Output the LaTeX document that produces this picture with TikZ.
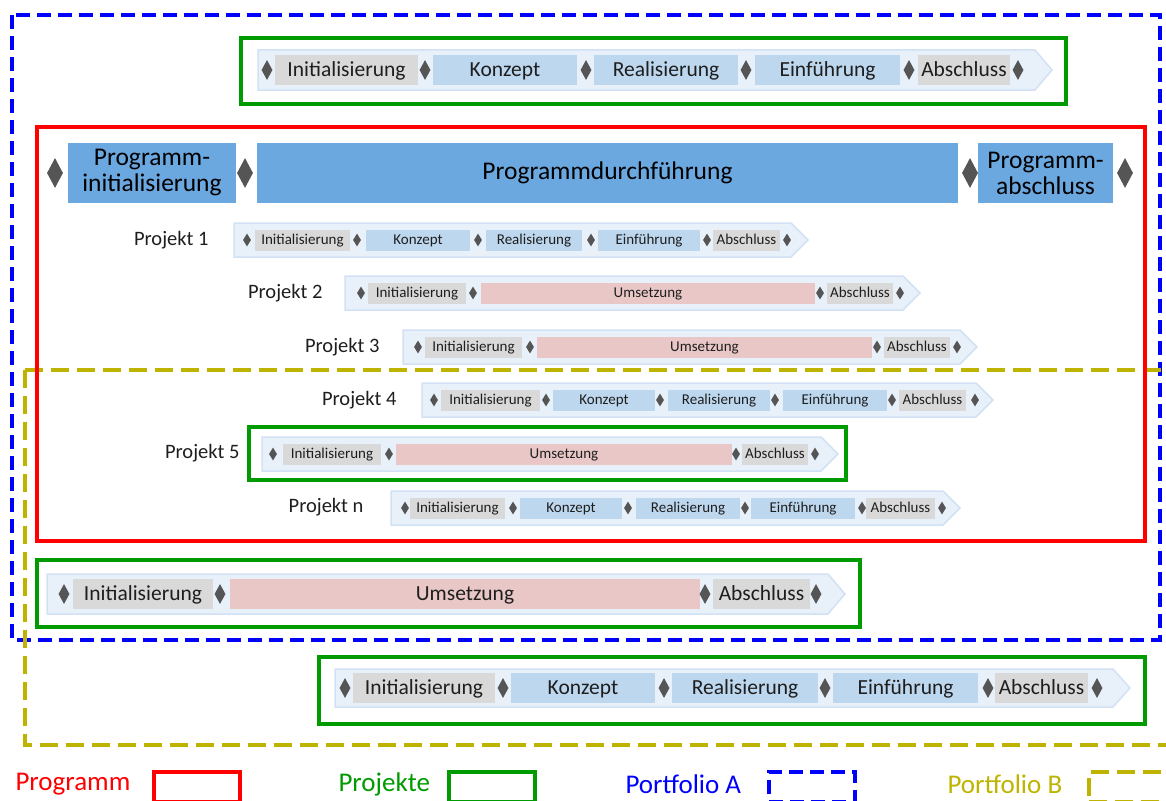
\documentclass[tikz,border=0pt]{standalone}
\usepackage{fontspec}
\setmainfont{Carlito}
\usepackage{tikz}
\usetikzlibrary{shapes.geometric}
\definecolor{ProgRed}{RGB}{255,0,0}
\definecolor{ProjGreen}{RGB}{0,155,0}
\definecolor{PortBlue}{RGB}{0,0,255}
\definecolor{PortOlive}{RGB}{190,180,0}
\definecolor{PhaseGrey}{RGB}{217,217,217}
\definecolor{PhaseBlue}{RGB}{189,215,238}
\definecolor{PhaseRose}{RGB}{234,199,199}
\definecolor{HeadBlue}{RGB}{108,168,224}
\definecolor{MsGrey}{RGB}{85,85,85}
\definecolor{RowBg}{RGB}{232,240,250}
\definecolor{RowEdge}{RGB}{210,225,243}
\definecolor{TextDark}{RGB}{30,30,30}

\tikzset{
  phase/.style={inner sep=0pt,text=TextDark,anchor=center},
  milestone/.style={diamond,fill=MsGrey,inner sep=0pt},
  smallrow/.style={font=\fontsize{15}{16}\selectfont,minimum height=21,
    text height=11pt,text depth=1.5pt},
  bigrow/.style={font=\fontsize{21.5}{23}\selectfont,minimum height=30,
    text height=16pt,text depth=2.5pt},
  smallms/.style={minimum width=8,minimum height=13},
  bigms/.style={minimum width=11,minimum height=20},
  rowbg/.style={fill=RowBg,draw=RowEdge,line width=1.5pt},
  headbox/.style={fill=HeadBlue,inner sep=0pt,minimum height=60,align=center,
    font=\fontsize{25.5}{26}\selectfont,text=black},
  projlabel/.style={anchor=east,font=\fontsize{20.5}{22}\selectfont,text=TextDark},
  legendtext/.style={anchor=west,font=\fontsize{27}{28}\selectfont},
  legendbox/.style={minimum width=86,minimum height=30,line width=4pt,anchor=north west}
}

% #1 name, #2 y, #3 half height, #4 bg start, #5 bg end, #6 boxes, #7 milestones, #8 size
\newcommand{\phaserow}[8]{%
  \filldraw[rowbg] (#4,#2-#3) -- (#5-17,#2-#3) -- (#5,#2) -- (#5-17,#2+#3) -- (#4,#2+#3) -- cycle;
  \foreach \a/\b/\c/\t [count=\i] in {#6}
    \node[phase,#8row,fill=\c,minimum width={\b-\a}] (#1-\i) at ({(\a+\b)/2},#2) {\t};
  \foreach \x [count=\i] in {#7}
    \node[milestone,#8ms] (#1-m\i) at (\x,#2) {};
}

\begin{document}
\begin{tikzpicture}[x=1pt,y=-1pt]
  \useasboundingbox (0,0) rectangle (1166,800);
  \clip (0,0) rectangle (1166,800);

  % portfolios, programm, projekte
  \draw[PortBlue,line width=4pt,dash pattern=on 14pt off 7pt] (12,15) rectangle (1160,640);
  \draw[PortOlive,line width=4pt,dash pattern=on 18pt off 8pt] (25,370) rectangle (1180,745);
  \draw[ProgRed,line width=3.5pt] (37,127) rectangle (1145,541);
  \draw[ProjGreen,line width=4pt] (241,38) rectangle (1066,104);
  \draw[ProjGreen,line width=4pt] (249,427) rectangle (846,480);
  \draw[ProjGreen,line width=4pt] (37,560) rectangle (860,627);
  \draw[ProjGreen,line width=4pt] (319,657) rectangle (1145,724);

  % einzelprojekt oben
  \phaserow{top}{70}{20}{258}{1052}
    {275/418/PhaseGrey/Initialisierung,433/577/PhaseBlue/Konzept,594/738/PhaseBlue/Realisierung,755/900/PhaseBlue/Einführung,918/1010/PhaseGrey/Abschluss}
    {267,425,586,746,909,1018}{big}

  % programm
  \node[headbox,minimum width=168] (hdr-init) at (152,173) {Programm-\\initialisierung};
  \node[headbox,minimum width=701] (hdr-run) at (607.5,173) {Programmdurchführung};
  \node[headbox,minimum width=135] (hdr-end) at (1045.5,173) {Programm-\\abschluss};
  \foreach \x [count=\i] in {55,245,970,1125}
    \node[milestone,minimum width=16,minimum height=30] (hdr-m\i) at (\x,173) {};

  \node[projlabel] (lbl1) at (212,240) {Projekt 1};
  \phaserow{p1}{240}{17}{234}{808}
    {255/350/PhaseGrey/Initialisierung,366/470/PhaseBlue/Konzept,486/582/PhaseBlue/Realisierung,598/700/PhaseBlue/Einführung,713/780/PhaseGrey/Abschluss}
    {247,357,478,591,707,787}{small}

  \node[projlabel] (lbl2) at (326,293) {Projekt 2};
  \phaserow{p2}{293}{17}{345}{920}
    {368/466/PhaseGrey/Initialisierung,481/815/PhaseRose/Umsetzung,827/893/PhaseGrey/Abschluss}
    {361,473,820,900}{small}

  \node[projlabel] (lbl3) at (383,347) {Projekt 3};
  \phaserow{p3}{347}{17}{403}{977}
    {425/522/PhaseGrey/Initialisierung,537/872/PhaseRose/Umsetzung,884/950/PhaseGrey/Abschluss}
    {418,530,877,957}{small}

  \node[projlabel] (lbl4) at (400,400) {Projekt 4};
  \phaserow{p4}{400}{17}{422}{993}
    {441/540/PhaseGrey/Initialisierung,553/655/PhaseBlue/Konzept,668/770/PhaseBlue/Realisierung,783/887/PhaseBlue/Einführung,899/966/PhaseGrey/Abschluss}
    {434,546,660,775,892,975}{small}

  \node[projlabel] (lbl5) at (243,453) {Projekt 5};
  \phaserow{p5}{454}{17}{262}{838}
    {283/381/PhaseGrey/Initialisierung,396/732/PhaseRose/Umsetzung,742/808/PhaseGrey/Abschluss}
    {273,389,736,815}{small}

  \node[projlabel] (lbln) at (367,507) {Projekt n};
  \phaserow{pn}{508}{17}{391}{960}
    {410/505/PhaseGrey/Initialisierung,520/622/PhaseBlue/Konzept,636/740/PhaseBlue/Realisierung,751/855/PhaseBlue/Einführung,866/935/PhaseGrey/Abschluss}
    {405,513,628,745,862,942}{small}

  % einzelprojekte unten
  \phaserow{bl}{594}{20}{47}{845}
    {73/213/PhaseGrey/Initialisierung,230/700/PhaseRose/Umsetzung,713/810/PhaseGrey/Abschluss}
    {64,220,705,816}{big}
  \phaserow{br}{688}{19}{335}{1130}
    {353/495/PhaseGrey/Initialisierung,511/655/PhaseBlue/Konzept,672/818/PhaseBlue/Realisierung,833/978/PhaseBlue/Einführung,995/1088/PhaseGrey/Abschluss}
    {345,503,664,825,988,1097}{big}

  % legende
  \node[legendtext,text=ProgRed] (leg-prog-t) at (12,784) {Programm};
  \node[legendbox,draw=ProgRed] (leg-prog) at (152,770) {};
  \node[legendtext,text=ProjGreen] (leg-proj-t) at (335,784) {Projekte};
  \node[legendbox,draw=ProjGreen] (leg-proj) at (447,770) {};
  \node[legendtext,text=PortBlue] (leg-pa-t) at (622,784) {Portfolio A};
  \node[legendbox,draw=PortBlue,dash pattern=on 14pt off 7pt] (leg-pa) at (767,770) {};
  \node[legendtext,text=PortOlive] (leg-pb-t) at (944,784) {Portfolio B};
  \node[legendbox,draw=PortOlive,dash pattern=on 18pt off 8pt] (leg-pb) at (1087,770) {};
\end{tikzpicture}
\end{document}
